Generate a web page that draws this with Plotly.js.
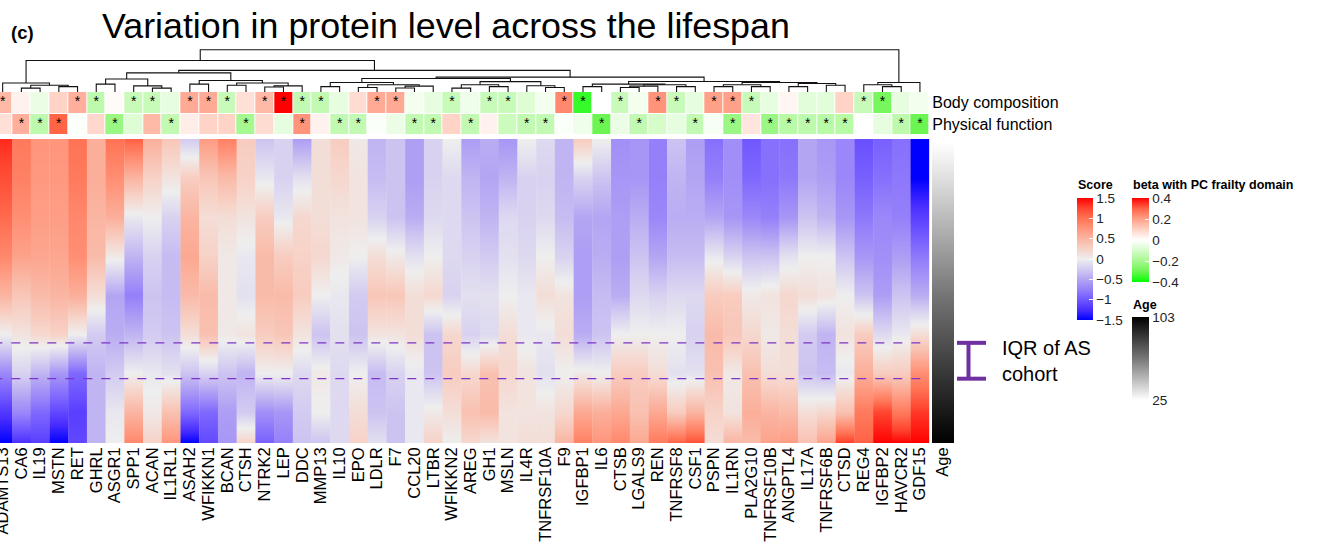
<!DOCTYPE html>
<html><head><meta charset="utf-8">
<script src="https://cdn.plot.ly/plotly-3.0.1.min.js"></script>
<style>html,body{margin:0;padding:0;background:#fff}#chart{width:1333px;height:545px}</style>
</head><body><div id="chart"></div>
<script>
const proteins = ['ADAMTS13','CA6','IL19','MSTN','RET','GHRL','ASGR1','SPP1','ACAN','IL1RL1','ASAH2','WFIKKN1','BCAN','CTSH','NTRK2','LEP','DDC','MMP13','IL10','EPO','LDLR','F7','CCL20','LTBR','WFIKKN2','AREG','GH1','MSLN','IL4R','TNFRSF10A','F9','IGFBP1','IL6','CTSB','LGALS9','REN','TNFRSF8','CSF1','PSPN','IL1RN','PLA2G10','TNFRSF10B','ANGPTL4','IL17A','TNFRSF6B','CTSD','REG4','IGFBP2','HAVCR2','GDF15'];
const ages = [25,35,45,55,65,75,85,95,103];
// score of each protein at the ages above
const scores = [
[1.35,1.2,1.05,0.85,0.5,0.0,-0.7,-1.2,-1.5],
[0.95,0.9,0.8,0.65,0.35,0.1,-0.2,-0.7,-1.25],
[0.75,0.72,0.68,0.62,0.45,0.2,-0.4,-0.9,-1.15],
[0.75,0.72,0.68,0.62,0.5,0.25,-0.6,-1.1,-1.5],
[1.0,0.95,0.85,0.8,0.55,0.0,-0.9,-1.15,-1.1],
[0.55,0.55,0.5,0.45,0.15,-0.25,-0.4,-0.4,-0.4],
[1.0,0.8,0.55,0.05,-0.5,-0.45,-0.25,-0.05,0.0],
[1.1,0.5,-0.05,-0.4,-0.75,-0.4,0.0,0.5,0.85],
[0.55,0.25,0.0,-0.2,-0.3,-0.25,-0.05,0.05,0.25],
[0.35,0.1,-0.2,-0.35,-0.35,-0.3,-0.1,0.4,0.75],
[-0.25,0.3,0.5,0.6,0.45,0.15,-0.3,-0.9,-1.5],
[0.7,0.35,0.15,0.25,0.45,0.4,-0.2,-0.9,-1.1],
[0.9,0.45,0.15,0.05,0.05,0.05,-0.3,-0.55,-0.6],
[0.3,0.25,0.1,-0.05,-0.1,0.1,-0.4,-0.25,0.25],
[-0.3,-0.05,0.3,0.45,0.45,0.3,0.0,-0.65,-0.95],
[-0.2,-0.2,-0.05,0.3,0.45,0.35,0.0,-0.6,-0.75],
[-0.55,-0.1,0.2,0.25,0.3,0.1,-0.15,-0.25,-0.3],
[0.15,0.15,0.15,0.2,0.0,-0.3,0.05,0.0,-0.3],
[0.3,0.2,0.1,0.05,-0.05,-0.1,-0.15,-0.15,-0.15],
[0.05,0.1,0.1,0.0,-0.25,-0.3,0.0,0.15,0.25],
[-0.4,-0.35,-0.2,0.15,0.35,0.1,-0.35,-0.3,-0.1],
[-0.3,-0.3,-0.3,0.05,0.35,0.1,-0.2,-0.3,-0.3],
[-0.55,-0.55,-0.45,-0.1,0.15,0.15,-0.05,-0.05,-0.05],
[-0.2,-0.2,-0.15,0.0,0.2,-0.3,-0.3,0.05,0.25],
[0.0,-0.15,-0.15,-0.15,-0.2,0.2,0.3,0.15,0.0],
[-0.55,-0.4,-0.3,-0.2,-0.1,-0.2,0.2,0.4,0.2],
[-0.45,-0.5,-0.4,-0.25,-0.1,-0.15,0.4,0.45,0.1],
[-0.6,-0.4,-0.15,-0.1,0.0,0.15,0.2,0.1,0.1],
[0.0,-0.2,-0.2,-0.15,-0.05,-0.05,0.1,0.1,0.15],
[-0.15,-0.2,-0.15,0.0,0.15,-0.05,-0.1,0.1,0.15],
[-0.4,-0.4,-0.35,-0.2,0.1,0.15,0.0,0.2,0.5],
[0.3,-0.2,-0.5,-0.55,-0.55,-0.45,0.05,0.6,0.9],
[0.0,-0.3,-0.5,-0.45,-0.35,-0.3,0.0,0.55,0.75],
[-0.65,-0.6,-0.55,-0.55,-0.45,0.0,0.3,0.6,0.85],
[-0.6,-0.6,-0.45,-0.3,-0.15,0.0,0.3,0.4,0.6],
[-0.75,-0.75,-0.7,-0.5,-0.2,0.0,0.15,0.6,0.95],
[-0.3,-0.4,-0.45,-0.35,-0.15,0.0,-0.1,0.3,1.1],
[-0.55,-0.5,-0.45,-0.35,-0.15,-0.2,-0.1,0.5,1.2],
[-0.85,-0.75,-0.5,-0.05,0.3,0.45,0.4,0.25,0.15],
[-0.65,-0.65,-0.6,-0.2,0.3,0.35,0.05,0.1,0.5],
[-1.0,-0.9,-0.7,-0.3,0.05,0.2,0.4,0.55,0.45],
[-0.85,-0.85,-0.75,-0.3,0.1,0.05,0.15,0.5,0.65],
[-0.85,-0.8,-0.6,-0.1,0.2,0.15,0.15,0.45,0.7],
[-0.5,-0.5,-0.3,0.0,0.15,-0.25,-0.3,0.15,0.4],
[-0.6,-0.55,-0.4,0.0,0.1,-0.4,-0.35,0.2,0.65],
[-0.7,-0.7,-0.6,-0.3,0.0,0.1,-0.05,0.4,1.3],
[-1.05,-0.95,-0.8,-0.6,-0.3,0.3,0.55,0.95,1.1],
[-0.95,-0.85,-0.7,-0.65,-0.55,-0.15,0.3,1.25,1.5],
[-0.85,-0.8,-0.75,-0.55,-0.3,-0.05,0.3,0.95,1.5],
[-1.5,-1.5,-1.15,-0.8,-0.45,0.15,0.8,1.3,1.5]
];
const annotRows = ['Body composition','Physical function'];
const bodyComp = [0.15,0.03,-0.05,0.1,0.17,-0.15,0.01,-0.13,-0.13,-0.06,0.18,0.18,-0.13,0.07,0.15,0.4,-0.14,-0.14,-0.06,0.08,0.18,0.18,-0.03,-0.06,-0.13,-0.04,-0.13,-0.13,-0.08,-0.03,0.24,-0.35,0.0,-0.13,-0.03,0.22,-0.13,-0.06,0.2,0.2,-0.13,-0.06,0.02,-0.07,-0.07,0.1,-0.13,-0.28,-0.06,-0.03];
const physFunc = [0.07,0.17,-0.15,0.3,-0.01,0.09,-0.22,-0.08,0.15,-0.14,0.04,0.1,0.1,-0.2,0.08,-0.06,0.22,0.03,-0.14,-0.14,-0.01,-0.05,-0.14,-0.14,0.1,-0.14,0.03,-0.12,-0.14,-0.14,-0.01,-0.04,-0.3,-0.05,-0.14,-0.1,-0.06,-0.14,-0.02,-0.22,0.06,-0.22,-0.16,-0.15,-0.16,-0.16,0.0,-0.06,-0.15,-0.3];
const bodyStar = [1,0,0,0,1,1,0,1,1,0,1,1,1,0,1,1,1,1,0,0,1,1,0,0,1,0,1,1,0,0,1,1,0,1,0,1,1,0,1,1,1,0,0,0,0,0,1,1,0,0];
const physStar = [0,1,1,1,0,0,1,0,0,1,0,0,0,1,0,0,1,0,1,1,0,0,1,1,0,1,0,0,1,1,0,0,1,0,1,0,0,1,0,1,0,1,1,1,1,1,0,0,1,1];
const iqrAges = [77.3, 86.5];
const ageLimits = [25, 103];
// dendrogram: [height, left, right]; leaves are column indices
const dendro = [0.94,
  [0.70,
    [0.2, 0, [0.15, [0.085, 1, 2], [0.12, 3, 4]]],
    [0.48,
      [0.425,
        [0.29, [0.175, 5, 6], [0.136, 7, [0.085, 8, 9]]],
        [0.257, [0.175, 10, 11], [0.2, [0.15, 12, 13], [0.136, [0.11, 14, 15], 16]]]],
      [0.33,
        [0.3,
          [0.21, [0.12, 17, 18], [0.16, [0.1, 19, 20], [0.13, [0.09, 21, 22], 23]]],
          [0.23, [0.16, [0.085, 24, 25], [0.12, 26, 27]], [0.14, 28, [0.1, 29, 30]]]],
        [0.234,
          [0.175, [0.12, 31, 32], [0.16, [0.13, [0.1, 33, 34], 35], [0.12, 36, 37]]],
          [0.21, [0.16, [0.12, 38, 39], [0.12, 40, 41]], [0.19, [0.12, 42, 43], [0.15, 44, 45]]]]]]],
  [0.21, [0.16, 46, [0.12, 47, 48]], 49]];

const W = 1333, H = 545;
const px = v => v / W, py = v => 1 - v / H;
const FONT = 'Liberation Sans, Arial, Helvetica, sans-serif';

const scoreScale = [[0,'#0000FF'],[0.0833,'#4A2EFF'],[0.1667,'#7058FF'],[0.25,'#9580FA'],[0.3333,'#B4A5F3'],[0.4167,'#D3CBF1'],[0.5,'#EEEEEE'],[0.5833,'#F7D2C7'],[0.6667,'#FAB5A2'],[0.75,'#FF957B'],[0.8333,'#FF7355'],[0.9167,'#FF4530'],[1,'#FF0000']];
const betaScale = [[0,'#00FF00'],[0.125,'#6CF552'],[0.25,'#A6F890'],[0.375,'#D6FCCA'],[0.5,'#FFFFFF'],[0.625,'#FFD3C6'],[0.75,'#FFA088'],[0.875,'#FF6447'],[1,'#FF0000']];
const ageScale = [[0,'#FFFFFF'],[0.5,'#777777'],[1,'#000000']];

const traces = [];
const idx = proteins.map((_, i) => i);

proteins.forEach((p, k) => {
  traces.push({
    type: 'heatmap', xaxis: 'x', yaxis: 'y',
    x: [k - 0.5, k, k + 0.5], y: ages,
    z: scores[k].map(v => [v, v]),
    zmin: -1.5, zmax: 1.5, colorscale: scoreScale, zsmooth: 'best',
    showscale: k === 0, hoverinfo: 'skip',
    colorbar: {x: px(1077), xanchor: 'left', xpad: 0, y: py(198), yanchor: 'top', ypad: 0,
      lenmode: 'pixels', len: 122, thicknessmode: 'pixels', thickness: 16, outlinewidth: 0,
      tickvals: [-1.5,-1,-0.5,0,0.5,1,1.5], ticktext: ['\u22121.5','\u22121','\u22120.5','0','0.5','1','1.5'],
      ticks: 'inside', ticklen: 4, tickcolor: '#fff', tickfont: {family: FONT, size: 13.5, color: '#222'}}
  });
});

// annotation rows
traces.push({
  type: 'heatmap', xaxis: 'x', yaxis: 'y2', x: idx, y: annotRows, z: [bodyComp, physFunc],
  zmin: -0.4, zmax: 0.4, colorscale: betaScale, xgap: 1, ygap: 1, hoverinfo: 'skip',
  colorbar: {x: px(1132), xanchor: 'left', xpad: 0, y: py(198), yanchor: 'top', ypad: 0,
    lenmode: 'pixels', len: 84, thicknessmode: 'pixels', thickness: 17, outlinewidth: 0,
    tickvals: [-0.4,-0.2,0,0.2,0.4], ticktext: ['\u22120.4','\u22120.2','0','0.2','0.4'],
    ticks: 'inside', ticklen: 4, tickcolor: '#fff', tickfont: {family: FONT, size: 13.5, color: '#222'}}
});
const starX = [], starY = [];
idx.forEach(i => { if (bodyStar[i]) { starX.push(i); starY.push(annotRows[0]); } });
idx.forEach(i => { if (physStar[i]) { starX.push(i); starY.push(annotRows[1]); } });
traces.push({type: 'scatter', mode: 'text', xaxis: 'x', yaxis: 'y2', x: starX, y: starY,
  text: starX.map(() => '*'), textposition: 'middle center', cliponaxis: false,
  textfont: {family: FONT, size: 14, color: '#000'}, hoverinfo: 'skip', showlegend: false});

// age column
traces.push({
  type: 'heatmap', xaxis: 'x2', yaxis: 'y4', x: [-0.5, 0, 0.5], y: ages,
  z: ages.map(a => [a, a]), zmin: ageLimits[0], zmax: ageLimits[1], colorscale: ageScale, zsmooth: 'best',
  hoverinfo: 'skip',
  colorbar: {x: px(1132), xanchor: 'left', xpad: 0, y: py(317), yanchor: 'top', ypad: 0,
    lenmode: 'pixels', len: 83, thicknessmode: 'pixels', thickness: 17, outlinewidth: 0,
    tickvals: ageLimits, ticktext: ageLimits.map(String),
    ticks: 'inside', ticklen: 4, tickcolor: '#fff', tickfont: {family: FONT, size: 13.5, color: '#222'}}
});

// dendrogram
const dx = [], dy = [];
function walk(node) {
  if (typeof node === 'number') return {x: node, h: 0};
  const L = walk(node[1]), R = walk(node[2]);
  dx.push(L.x, L.x, R.x, R.x, null); dy.push(L.h, node[0], node[0], R.h, null);
  return {x: (L.x + R.x) / 2, h: node[0]};
}
walk(dendro);
traces.push({type: 'scatter', mode: 'lines', xaxis: 'x', yaxis: 'y3', x: dx, y: dy, cliponaxis: false,
  line: {color: '#111', width: 1.1}, hoverinfo: 'skip', showlegend: false});

const purple = '#7030A0';
const shapes = [];
iqrAges.forEach(a => {
  shapes.push({type: 'line', xref: 'x', yref: 'y', x0: -0.5, x1: proteins.length - 0.5, y0: a, y1: a,
    line: {color: '#7B35C8', width: 1.3, dash: 'dash'}});
  shapes.push({type: 'line', xref: 'paper', yref: 'y', x0: px(957), x1: px(986), y0: a, y1: a,
    line: {color: purple, width: 4}});
});
shapes.push({type: 'line', xref: 'paper', yref: 'y', x0: px(968.5), x1: px(968.5), y0: iqrAges[0], y1: iqrAges[1],
  line: {color: purple, width: 4}});

const annotations = [
  {text: 'Variation in protein level across the lifespan', xref: 'paper', yref: 'paper', x: px(446), y: py(26),
    xanchor: 'center', yanchor: 'middle', showarrow: false, font: {family: FONT, size: 35.8, color: '#000'}},
  {text: '<b>(c)</b>', xref: 'paper', yref: 'paper', x: px(9), y: py(33), xanchor: 'left', yanchor: 'middle',
    showarrow: false, font: {family: FONT, size: 18.5, color: '#000'}},
  {text: 'IQR of AS<br>cohort', xref: 'paper', yref: 'y', x: px(1000), y: (iqrAges[0] + iqrAges[1]) / 2,
    xanchor: 'left', yanchor: 'middle', align: 'left', showarrow: false, font: {family: FONT, size: 20, color: '#000'}},
  {text: '<b>Score</b>', xref: 'paper', yref: 'paper', x: px(1076), y: py(185), xanchor: 'left', yanchor: 'middle',
    showarrow: false, font: {family: FONT, size: 12.5, color: '#000'}},
  {text: '<b>beta with PC frailty domain</b>', xref: 'paper', yref: 'paper', x: px(1131), y: py(185), xanchor: 'left', yanchor: 'middle',
    showarrow: false, font: {family: FONT, size: 12.5, color: '#000'}},
  {text: '<b>Age</b>', xref: 'paper', yref: 'paper', x: px(1131), y: py(305), xanchor: 'left', yanchor: 'middle',
    showarrow: false, font: {family: FONT, size: 12.5, color: '#000'}}
];

const layout = {
  width: W, height: H, margin: {l: 0, r: 0, t: 0, b: 0}, paper_bgcolor: '#fff', plot_bgcolor: 'rgba(0,0,0,0)',
  showlegend: false, font: {family: FONT, color: '#000'},
  xaxis: {domain: [0, px(929.3)], range: [-0.142, proteins.length - 0.5], anchor: 'y',
    tickvals: idx, ticktext: proteins, tickangle: -90, ticks: '', showgrid: false, zeroline: false, showline: false,
    ticklabeloverflow: 'allow', tickfont: {family: FONT, size: 16.5, color: '#000'}},
  yaxis: {domain: [py(443), py(139)], range: [ageLimits[1], ageLimits[0]], anchor: 'x', visible: false},
  yaxis2: {domain: [py(135), py(92)], type: 'category', range: [1.5, -0.5], anchor: 'x', side: 'right',
    ticks: '', showgrid: false, zeroline: false, showline: false, ticklabelstandoff: 2,
    tickfont: {family: FONT, size: 16, color: '#000'}},
  yaxis3: {domain: [py(92), py(47)], range: [0, 1], anchor: 'x', visible: false},
  xaxis2: {domain: [px(932), px(954)], range: [-0.5, 0.5], anchor: 'y4', tickvals: [0], ticktext: ['Age'],
    tickangle: -90, ticks: '', showgrid: false, zeroline: false, showline: false, tickfont: {family: FONT, size: 16.5, color: '#000'}},
  yaxis4: {domain: [py(443), py(142)], range: [ageLimits[1], ageLimits[0]], anchor: 'x2', visible: false},
  shapes: shapes, annotations: annotations
};

Plotly.newPlot('chart', traces, layout, {displayModeBar: false, responsive: false});
</script>
</body></html>
